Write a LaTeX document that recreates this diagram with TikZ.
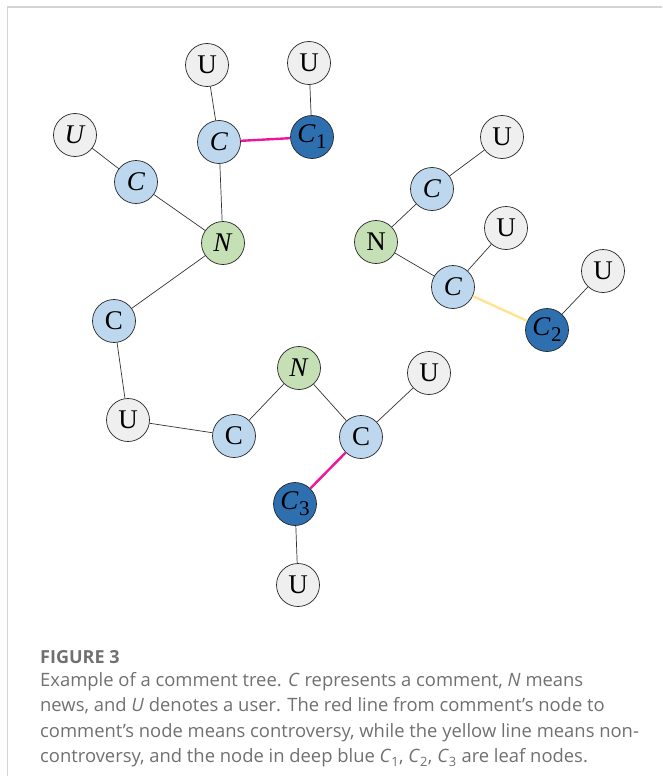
\documentclass[tikz,border=0pt]{standalone}
\usepackage{fontspec}
\setmainfont{Liberation Serif}
\newfontfamily\capfont{Open Sans}
\definecolor{ufill}{HTML}{EFEFEF}
\definecolor{cfill}{HTML}{BDD7EE}
\definecolor{nfill}{HTML}{C5E0B4}
\definecolor{dfill}{HTML}{2E6FB0}
\definecolor{redline}{HTML}{F0149B}
\definecolor{yelline}{HTML}{FFE490}
\definecolor{captext}{HTML}{707070}
\definecolor{frame}{HTML}{D4D4D4}
\newcommand\itsub[2]{\textit{#1}\kern0.5pt\raisebox{-0.22em}{\fontsize{21}{21}\selectfont #2}}
\begin{document}
\begin{tikzpicture}[x=1pt,y=-1pt,
  vtx/.style={circle,draw=black!85,line width=0.7pt,minimum size=43pt,inner sep=0pt,font=\fontsize{27}{27}\selectfont},
  unode/.style={vtx,fill=ufill},
  cnode/.style={vtx,fill=cfill},
  nnode/.style={vtx,fill=nfill},
  dnode/.style={vtx,fill=dfill},
  link/.style={draw=black!80,line width=0.7pt},
  redlink/.style={draw=redline,line width=2.4pt},
  yellink/.style={draw=yelline,line width=2.4pt}]
\useasboundingbox (0,0) rectangle (662,776);
\draw[frame,line width=2pt] (7,7) -- (662,7);
\draw[frame,line width=1pt] (7.5,7) -- (7.5,776);
% nodes
\node[unode] (u1) at (207,65) {U};
\node[unode] (u2) at (309,63) {U};
\node[cnode] (ca) at (219,142) {\textit{C}};
\node[dnode] (c1) at (312,137) {\itsub{C}{1}};
\node[unode] (ul) at (75,135) {\textit{U}};
\node[cnode] (cl) at (136,182) {\textit{C}};
\node[nnode] (n1) at (223,243) {\textit{N}};
\node[cnode] (cb) at (114,321) {C};
\node[unode] (um) at (128,420) {U};
\node[cnode] (cc) at (234,436) {C};
\node[nnode] (n2) at (299,368) {\textit{N}};
\node[cnode] (cd) at (361,437) {C};
\node[unode] (ur) at (429,373) {U};
\node[dnode] (c3) at (295,504) {\itsub{C}{3}};
\node[unode] (ub) at (298,585) {U};
\node[unode] (ur1) at (502,137) {U};
\node[cnode] (ce) at (432,189) {\textit{C}};
\node[nnode] (n3) at (376,242) {N};
\node[unode] (ur2) at (506,228) {U};
\node[cnode] (cf) at (453,287) {\textit{C}};
\node[unode] (ur3) at (603,271) {U};
\node[dnode] (c2) at (547,330) {\itsub{C}{2}};
% edges
\draw[link] (u1) -- (ca);
\draw[link] (u2) -- (c1);
\draw[redlink] (ca) -- (c1);
\draw[link] (ca) -- (n1);
\draw[link] (ul) -- (cl);
\draw[link] (cl) -- (n1);
\draw[link] (n1) -- (cb);
\draw[link] (cb) -- (um);
\draw[link] (um) -- (cc);
\draw[link] (cc) -- (n2);
\draw[link] (n2) -- (cd);
\draw[link] (cd) -- (ur);
\draw[redlink] (cd) -- (c3);
\draw[link] (c3) -- (ub);
\draw[link] (ur1) -- (ce);
\draw[link] (ce) -- (n3);
\draw[link] (n3) -- (cf);
\draw[link] (cf) -- (ur2);
\draw[yellink] (cf) -- (c2);
\draw[link] (c2) -- (ur3);
% caption
\node[anchor=west,inner sep=0pt,text=captext,font=\capfont\fontsize{18}{20}\selectfont\bfseries] (fig) at (40,657) {FIGURE 3};
\node[anchor=north west,inner sep=0pt,text=captext,align=left,font=\capfont\fontsize{18.4}{25.5}\selectfont] (cap) at (40,672)
{Example of a comment tree. \textit{C} represents a comment, \textit{N} means\\
news, and \textit{U} denotes a user. The red line from comment’s node to\\
comment’s node means controversy, while the yellow line means non-\\
controversy, and the node in deep blue \textit{C}\textsubscript{1}, \textit{C}\textsubscript{2}, \textit{C}\textsubscript{3} are leaf nodes.};
\end{tikzpicture}
\end{document}
